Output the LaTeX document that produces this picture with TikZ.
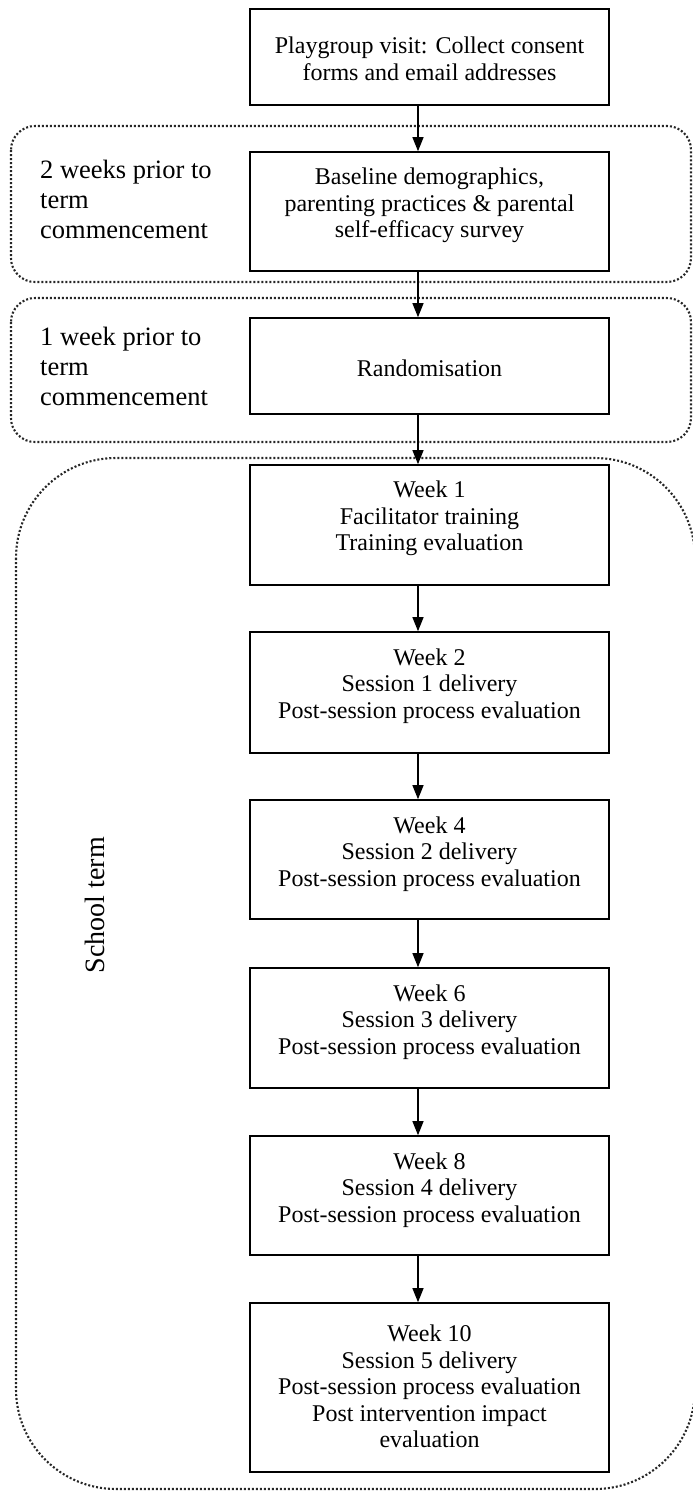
\documentclass[tikz,border=0pt]{standalone}
\usepackage{fontspec}
\setmainfont{Liberation Serif}
\usetikzlibrary{arrows.meta}
\begin{document}
\begin{tikzpicture}[x=1pt,y=-1pt,
  box/.style={draw, line width=1.6pt, minimum width=359pt, inner sep=0pt},
  txt/.style={align=center, font=\fontsize{24}{26.5}\selectfont, inner sep=0pt},
  lab/.style={align=left, font=\fontsize{26.5}{30}\selectfont, anchor=west, inner sep=0pt},
  grp/.style={draw=black!85, line width=2.1pt, dash pattern=on 2pt off 2pt},
  arr/.style={line width=1.2pt, -{Triangle[length=14pt,width=11pt]}}]
\useasboundingbox (0,0) rectangle (693,1492);
\clip (0,0) rectangle (693,1492);

% dotted groups
\draw[grp, rounded corners=24pt] (11,126) rectangle (691,282);
\draw[grp, rounded corners=24pt] (11,298) rectangle (691,442);
\draw[grp, rounded corners=100pt] (16,458) rectangle (695,1489);

% boxes
\node[box, minimum height=96pt]  (b1)  at (429.5,57) {};
\node[box, minimum height=119pt] (b2)  at (429.5,211.5) {};
\node[box, minimum height=96pt]  (b3)  at (429.5,366) {};
\node[box, minimum height=120pt] (w1)  at (429.5,525) {};
\node[box, minimum height=121pt] (w2)  at (429.5,692.5) {};
\node[box, minimum height=119pt] (w4)  at (429.5,859.5) {};
\node[box, minimum height=120pt] (w6)  at (429.5,1028) {};
\node[box, minimum height=119pt] (w8)  at (429.5,1195.5) {};
\node[box, minimum height=169pt] (w10) at (429.5,1387.5) {};

% box texts
\node[txt] (t1)  at (429.5,59) {Playgroup visit: Collect consent\\forms and email addresses};
\node[txt] (t2)  at (429.5,205.5) {Baseline demographics,\\parenting practices \& parental\\self-efficacy survey};
\node[txt] (t3)  at (429.5,368) {Randomisation};
\node[txt] (tw1) at (429.5,518.5) {Week 1\\Facilitator training\\Training evaluation};
\node[txt] (tw2) at (429.5,686) {Week 2\\Session 1 delivery\\Post-session process evaluation};
\node[txt] (tw4) at (429.5,854) {Week 4\\Session 2 delivery\\Post-session process evaluation};
\node[txt] (tw6) at (429.5,1022) {Week 6\\Session 3 delivery\\Post-session process evaluation};
\node[txt] (tw8) at (429.5,1190) {Week 8\\Session 4 delivery\\Post-session process evaluation};
\node[txt] (tw10) at (429.5,1386.5) {Week 10\\Session 5 delivery\\Post-session process evaluation\\Post intervention impact\\evaluation};

% side labels
\node[lab] (l1) at (40,199) {2 weeks prior to\\term\\commencement};
\node[lab] (l2) at (40,366) {1 week prior to\\term\\commencement};
\node[font=\fontsize{28}{32}\selectfont, rotate=90, inner sep=0pt] (l3) at (95,905) {School term};

% arrows
\coordinate (ax) at (418,0);
\draw[arr] (b1.south -| ax) -- (b2.north -| ax);
\draw[arr] (b2.south -| ax) -- (b3.north -| ax);
\draw[arr] (b3.south -| ax) -- (w1.north -| ax);
\draw[arr] (w1.south -| ax) -- (w2.north -| ax);
\draw[arr] (w2.south -| ax) -- (w4.north -| ax);
\draw[arr] (w4.south -| ax) -- (w6.north -| ax);
\draw[arr] (w6.south -| ax) -- (w8.north -| ax);
\draw[arr] (w8.south -| ax) -- (w10.north -| ax);
\end{tikzpicture}
\end{document}
